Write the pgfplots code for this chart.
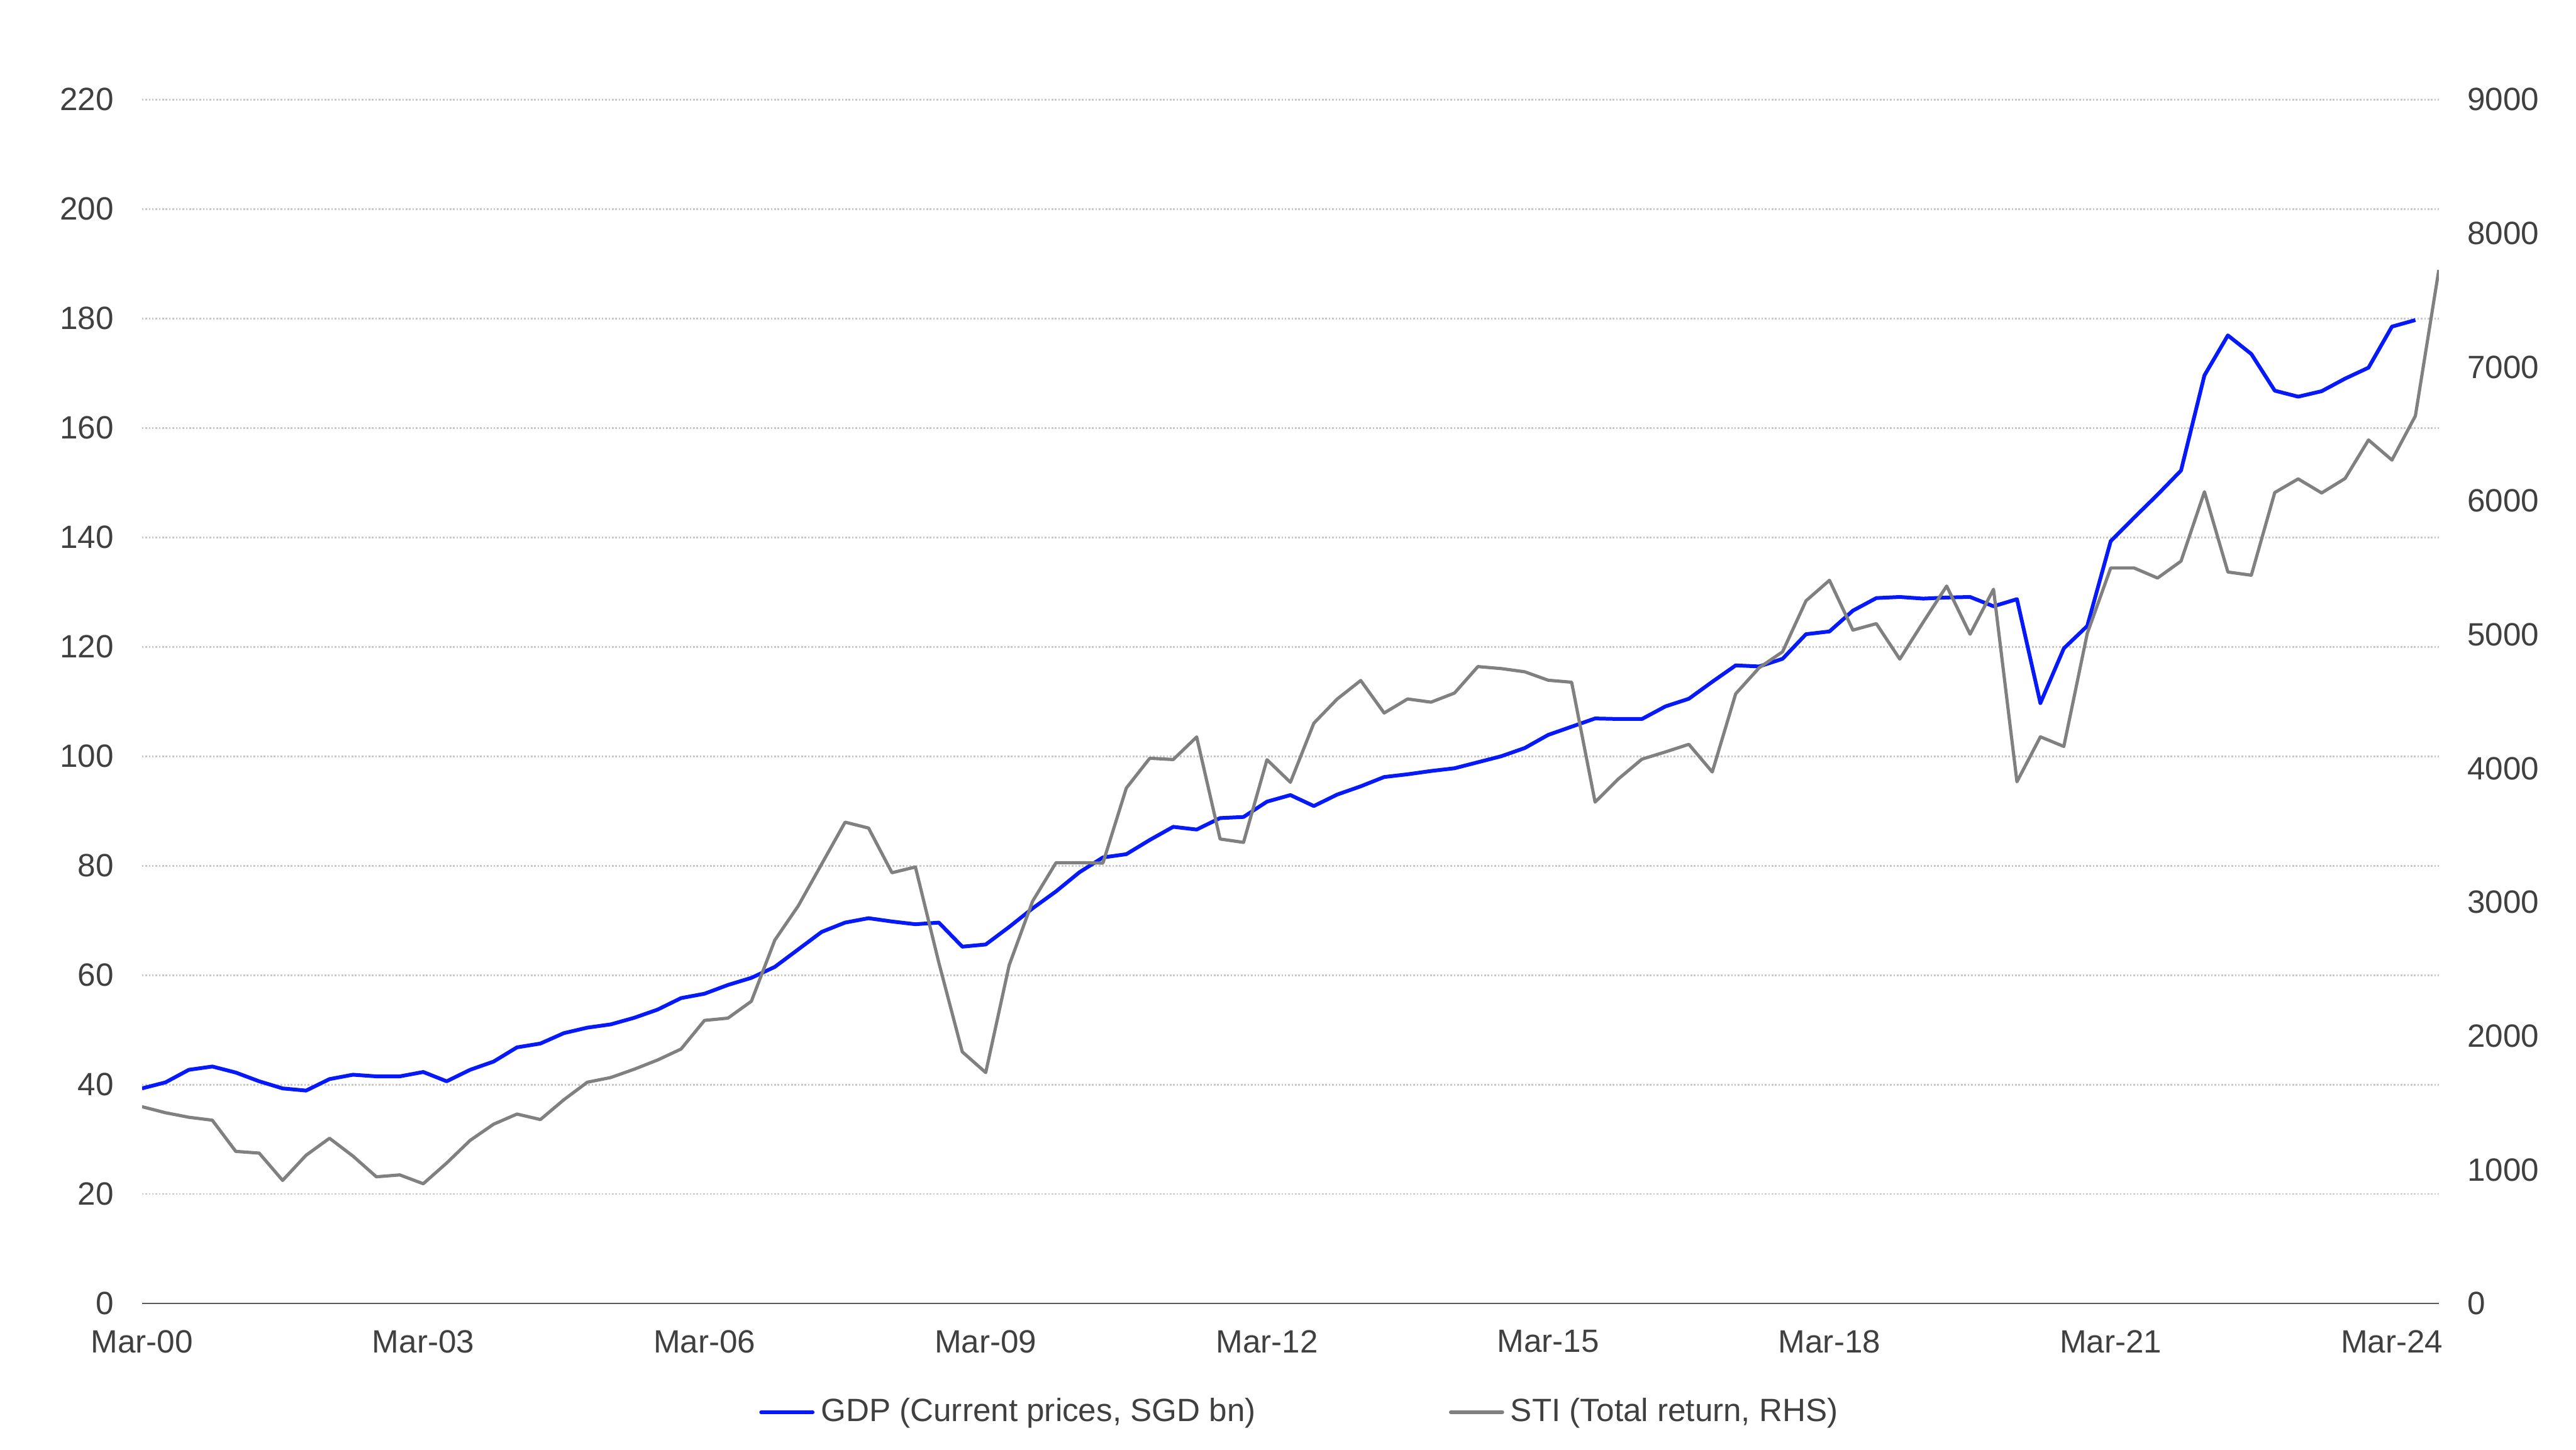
\documentclass[border=0pt]{standalone}
\usepackage{fontspec}
\setmainfont{Liberation Sans}
\usepackage{pgfplots}
\pgfplotsset{compat=1.18}
\usepackage{pgfplotstable}

\definecolor{textgray}{HTML}{404040}
\definecolor{gridgray}{HTML}{C8C8C8}
\definecolor{axisgray}{HTML}{595959}
\definecolor{gdpblue}{RGB}{5,25,250}
\definecolor{stigray}{HTML}{808080}

\pgfplotstableread{
q gdp
0 39.3
1 40.4
2 42.7
3 43.3
4 42.2
5 40.6
6 39.3
7 38.9
8 41.0
9 41.8
10 41.5
11 41.5
12 42.3
13 40.6
14 42.7
15 44.2
16 46.8
17 47.5
18 49.4
19 50.4
20 51.0
21 52.2
22 53.7
23 55.8
24 56.6
25 58.2
26 59.5
27 61.5
28 64.7
29 67.9
30 69.6
31 70.4
32 69.8
33 69.3
34 69.6
35 65.2
36 65.6
37 68.8
38 72.2
39 75.3
40 78.8
41 81.5
42 82.1
43 84.7
44 87.1
45 86.6
46 88.7
47 88.9
48 91.7
49 92.9
50 90.9
51 93.0
52 94.5
53 96.2
54 96.7
55 97.3
56 97.8
57 98.9
58 100.0
59 101.5
60 103.9
61 105.4
62 106.9
63 106.8
64 106.8
65 109.1
66 110.5
67 113.6
68 116.6
69 116.4
70 117.8
71 122.3
72 122.8
73 126.6
74 128.9
75 129.1
76 128.8
77 129.0
78 129.1
79 127.4
80 128.7
81 109.7
82 119.7
83 123.8
84 139.3
85 143.6
86 147.8
87 152.2
88 169.6
89 176.9
90 173.5
91 166.8
92 165.7
93 166.7
94 169.0
95 171.0
96 178.5
97 179.7
}\gdptable

\pgfplotstableread{
q sti
0 1471
1 1426
2 1392
3 1370
4 1137
5 1124
6 920
7 1108
8 1235
9 1102
10 947
11 961
12 895
13 1050
14 1219
15 1340
16 1416
17 1375
18 1523
19 1654
20 1689
21 1751
22 1820
23 1902
24 2116
25 2133
26 2259
27 2716
28 2972
29 3285
30 3598
31 3554
32 3220
33 3263
34 2547
35 1881
36 1726
37 2529
38 3007
39 3295
40 3295
41 3292
42 3853
43 4076
44 4066
45 4235
46 3472
47 3447
48 4065
49 3896
50 4338
51 4519
52 4657
53 4414
54 4519
55 4495
56 4563
57 4761
58 4746
59 4722
60 4659
61 4644
62 3748
63 3922
64 4069
65 4123
66 4180
67 3973
68 4558
69 4752
70 4872
71 5253
72 5406
73 5034
74 5082
75 4817
76 5093
77 5363
78 5003
79 5339
80 3900
81 4236
82 4164
83 5009
84 5498
85 5498
86 5423
87 5549
88 6068
89 5468
90 5444
91 6062
92 6164
93 6059
94 6167
95 6455
96 6305
97 6635
98 7726
}\stitable

\pgfplotsset{
  base/.style={
    at={(0,0)}, anchor=south west,
    scale only axis, width=713.3pt, height=373.8pt,
    xmin=0, xmax=98,
    major tick length=0pt,
    tick label style={text=textgray, font=\fontsize{10}{12}\selectfont},
    /pgf/number format/assume math mode=true,
    /pgf/number format/1000 sep={},
  }
}

\begin{document}
\begin{tikzpicture}
\begin{axis}[
  base,
  ymin=0, ymax=220,
  ytick={0,20,...,220},
  xtick={0,12,...,96},
  xticklabels={Mar-00,Mar-03,Mar-06,Mar-09,Mar-12,Mar-15,Mar-18,Mar-21,Mar-24},
  axis x line*=bottom, axis y line*=left,
  x axis line style={draw=axisgray, line width=0.55pt, -},
  y axis line style={draw=none},
  ymajorgrids,
  major grid style={draw=gridgray, line width=0.55pt, dash pattern=on 0.5pt off 0.55pt},
  xticklabel style={yshift=-4.8pt},
  yticklabel style={xshift=-5.3pt},
]
\addplot[gdpblue, line width=1.17pt, line join=round] table[x=q, y=gdp] {\gdptable};
\end{axis}
\begin{axis}[
  base,
  ymin=0, ymax=9000,
  ytick={0,1000,...,9000},
  axis x line=none,
  axis y line*=right,
  y axis line style={draw=none},
  yticklabel style={xshift=5.3pt},
  legend columns=2,
  legend cell align=left,
  legend style={at={(0.505,-0.0904)}, anchor=center, draw=none, fill=none,
    font=\fontsize{10}{12}\selectfont, text=textgray,
    /tikz/every even column/.append style={column sep=58pt},
    nodes={inner xsep=2pt}},
  legend image code/.code={\draw[#1, line cap=round, line width=1.15pt] (0pt,0pt) -- (16pt,0pt);},
]
\addlegendimage{gdpblue}
\addlegendentry{GDP (Current prices, SGD bn)}
\addplot[stigray, line width=1.0pt, line join=round] table[x=q, y=sti] {\stitable};
\addlegendentry{STI (Total return, RHS)}
\end{axis}
\pgfresetboundingbox
\path[use as bounding box] (-44.1pt,-45.3pt) rectangle (755.9pt,404.7pt);
\end{tikzpicture}
\end{document}
